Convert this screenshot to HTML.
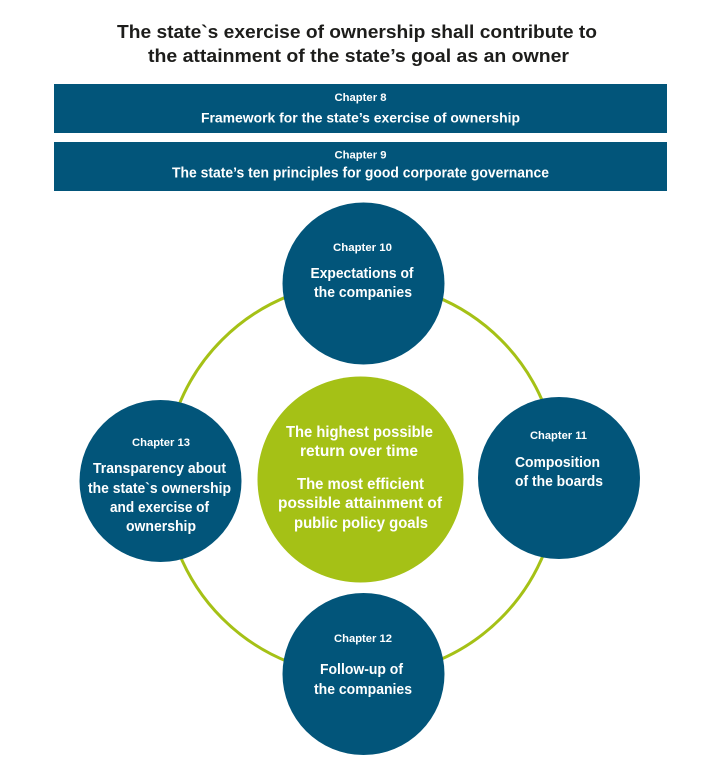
<!DOCTYPE html>
<html>
<head>
<meta charset="utf-8">
<style>
  html, body { margin: 0; padding: 0; background: #ffffff; }
  svg { display: block; }
  text { font-family: "Liberation Sans", "DejaVu Sans", sans-serif; font-weight: bold; }
</style>
</head>
<body>
<svg width="723" height="774" viewBox="0 0 723 774" xmlns="http://www.w3.org/2000/svg">
  <rect x="0" y="0" width="723" height="774" fill="#ffffff"/>

  <!-- Title -->
  <text x="357" y="38" font-size="18.5" fill="#1d1d1b" text-anchor="middle" textLength="480" lengthAdjust="spacingAndGlyphs">The state`s exercise of ownership shall contribute to</text>
  <text x="358.5" y="62" font-size="18.5" fill="#1d1d1b" text-anchor="middle" textLength="421" lengthAdjust="spacingAndGlyphs">the attainment of the state’s goal as an owner</text>

  <!-- Banners -->
  <rect x="54" y="84" width="613" height="49" fill="#02557a"/>
  <rect x="54" y="142" width="613" height="49" fill="#02557a"/>
  <text x="360.5" y="101" font-size="11" fill="#ffffff" text-anchor="middle" textLength="52" lengthAdjust="spacingAndGlyphs">Chapter 8</text>
  <text x="360.5" y="122.7" font-size="14" fill="#ffffff" text-anchor="middle" textLength="319" lengthAdjust="spacingAndGlyphs">Framework for the state’s exercise of ownership</text>
  <text x="360.5" y="158.5" font-size="11" fill="#ffffff" text-anchor="middle" textLength="52" lengthAdjust="spacingAndGlyphs">Chapter 9</text>
  <text x="360.5" y="177.3" font-size="14.5" fill="#ffffff" text-anchor="middle" textLength="377" lengthAdjust="spacingAndGlyphs">The state’s ten principles for good corporate governance</text>

  <!-- Ring -->
  <circle cx="361.5" cy="479" r="197" fill="none" stroke="#a5c116" stroke-width="3"/>

  <!-- Center green circle -->
  <circle cx="360.5" cy="479.5" r="103" fill="#a5c116"/>
  <text x="359.5" y="437" font-size="16" fill="#ffffff" text-anchor="middle" textLength="147" lengthAdjust="spacingAndGlyphs">The highest possible</text>
  <text x="359" y="456" font-size="16" fill="#ffffff" text-anchor="middle" textLength="118" lengthAdjust="spacingAndGlyphs">return over time</text>
  <text x="360.5" y="489" font-size="16" fill="#ffffff" text-anchor="middle" textLength="127" lengthAdjust="spacingAndGlyphs">The most efficient</text>
  <text x="360" y="508" font-size="16" fill="#ffffff" text-anchor="middle" textLength="164" lengthAdjust="spacingAndGlyphs">possible attainment of</text>
  <text x="361" y="528" font-size="16" fill="#ffffff" text-anchor="middle" textLength="134" lengthAdjust="spacingAndGlyphs">public policy goals</text>

  <!-- Top circle: Chapter 10 -->
  <circle cx="363.5" cy="283.5" r="81" fill="#02557a"/>
  <text x="362.5" y="251" font-size="11" fill="#ffffff" text-anchor="middle" textLength="59" lengthAdjust="spacingAndGlyphs">Chapter 10</text>
  <text x="362" y="278" font-size="14.5" fill="#ffffff" text-anchor="middle" textLength="103" lengthAdjust="spacingAndGlyphs">Expectations of</text>
  <text x="363" y="297" font-size="14.5" fill="#ffffff" text-anchor="middle" textLength="98" lengthAdjust="spacingAndGlyphs">the companies</text>

  <!-- Right circle: Chapter 11 -->
  <circle cx="559" cy="478" r="81" fill="#02557a"/>
  <text x="558.5" y="439" font-size="11" fill="#ffffff" text-anchor="middle" textLength="57" lengthAdjust="spacingAndGlyphs">Chapter 11</text>
  <text x="557.5" y="467" font-size="14.5" fill="#ffffff" text-anchor="middle" textLength="85" lengthAdjust="spacingAndGlyphs">Composition</text>
  <text x="559" y="486" font-size="14.5" fill="#ffffff" text-anchor="middle" textLength="88" lengthAdjust="spacingAndGlyphs">of the boards</text>

  <!-- Bottom circle: Chapter 12 -->
  <circle cx="363.5" cy="674" r="81" fill="#02557a"/>
  <text x="363" y="642" font-size="11" fill="#ffffff" text-anchor="middle" textLength="58" lengthAdjust="spacingAndGlyphs">Chapter 12</text>
  <text x="361.5" y="674" font-size="14.5" fill="#ffffff" text-anchor="middle" textLength="83" lengthAdjust="spacingAndGlyphs">Follow-up of</text>
  <text x="363" y="694" font-size="14.5" fill="#ffffff" text-anchor="middle" textLength="98" lengthAdjust="spacingAndGlyphs">the companies</text>

  <!-- Left circle: Chapter 13 -->
  <circle cx="160.5" cy="481" r="81" fill="#02557a"/>
  <text x="161" y="446" font-size="11" fill="#ffffff" text-anchor="middle" textLength="58" lengthAdjust="spacingAndGlyphs">Chapter 13</text>
  <text x="159.5" y="473" font-size="14.5" fill="#ffffff" text-anchor="middle" textLength="133" lengthAdjust="spacingAndGlyphs">Transparency about</text>
  <text x="159.5" y="493" font-size="14.5" fill="#ffffff" text-anchor="middle" textLength="143" lengthAdjust="spacingAndGlyphs">the state`s ownership</text>
  <text x="159.5" y="512" font-size="14.5" fill="#ffffff" text-anchor="middle" textLength="99" lengthAdjust="spacingAndGlyphs">and exercise of</text>
  <text x="161" y="531" font-size="14.5" fill="#ffffff" text-anchor="middle" textLength="70" lengthAdjust="spacingAndGlyphs">ownership</text>
</svg>
</body>
</html>
